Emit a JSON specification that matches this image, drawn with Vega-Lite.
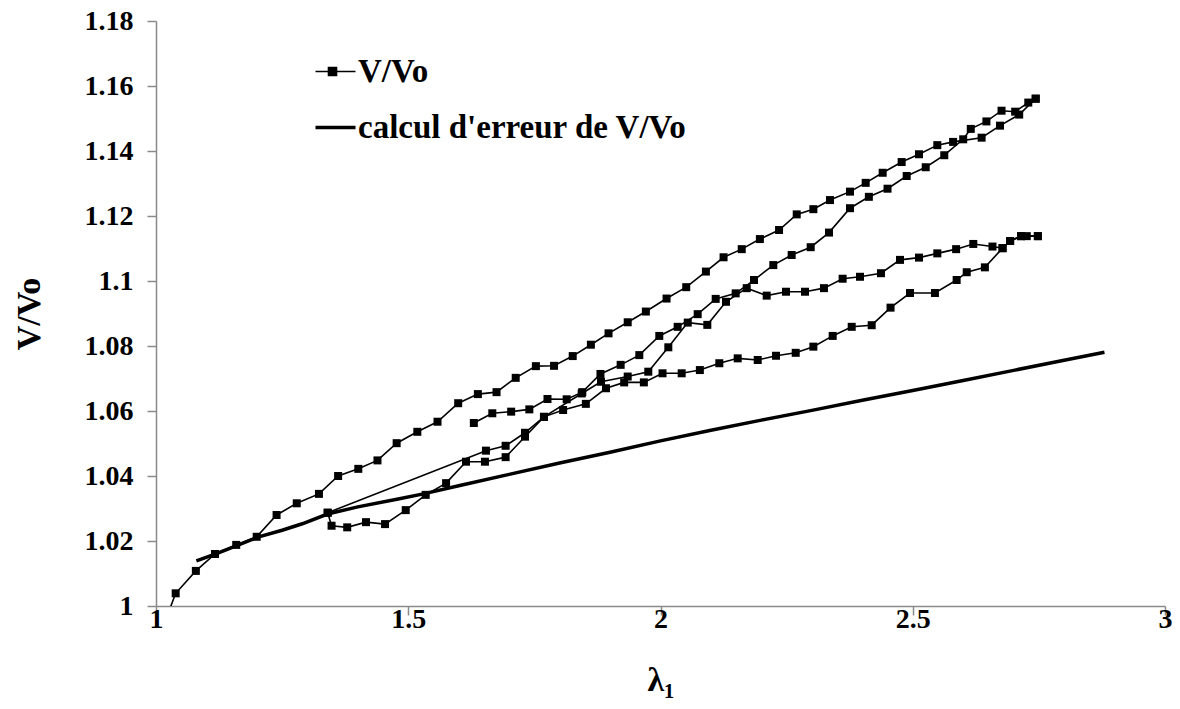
{
  "$schema": "https://vega.github.io/schema/vega-lite/v6.json",
  "width": 1009,
  "height": 585,
  "autosize": "none",
  "padding": {"left": 156, "top": 21, "right": 15, "bottom": 103},
  "background": "white",
  "config": {"view": {"stroke": null}, "font": "Liberation Serif, Times New Roman, serif"},
  "datasets": {
    "vv": [
      {"b":"A","i":0,"x":1.015,"y":0.994},
      {"b":"A","i":1,"x":1.039,"y":1.0039},
      {"b":"A","i":2,"x":1.079,"y":1.0108},
      {"b":"A","i":3,"x":1.117,"y":1.0160},
      {"b":"A","i":4,"x":1.159,"y":1.0188},
      {"b":"A","i":5,"x":1.1996,"y":1.0213},
      {"b":"A","i":6,"x":1.239,"y":1.0280},
      {"b":"A","i":7,"x":1.279,"y":1.0316},
      {"b":"A","i":8,"x":1.323,"y":1.0345},
      {"b":"A","i":9,"x":1.361,"y":1.0400},
      {"b":"A","i":10,"x":1.401,"y":1.0422},
      {"b":"A","i":11,"x":1.439,"y":1.0448},
      {"b":"A","i":12,"x":1.477,"y":1.0501},
      {"b":"A","i":13,"x":1.518,"y":1.0536},
      {"b":"A","i":14,"x":1.558,"y":1.0567},
      {"b":"A","i":15,"x":1.599,"y":1.0624},
      {"b":"A","i":16,"x":1.638,"y":1.0652},
      {"b":"A","i":17,"x":1.675,"y":1.0658},
      {"b":"A","i":18,"x":1.713,"y":1.0702},
      {"b":"A","i":19,"x":1.753,"y":1.0738},
      {"b":"A","i":20,"x":1.789,"y":1.0739},
      {"b":"A","i":21,"x":1.826,"y":1.0769},
      {"b":"A","i":22,"x":1.862,"y":1.0804},
      {"b":"A","i":23,"x":1.897,"y":1.0839},
      {"b":"A","i":24,"x":1.935,"y":1.0873},
      {"b":"A","i":25,"x":1.971,"y":1.0906},
      {"b":"A","i":26,"x":2.012,"y":1.0946},
      {"b":"A","i":27,"x":2.051,"y":1.0981},
      {"b":"A","i":28,"x":2.090,"y":1.1029},
      {"b":"A","i":29,"x":2.125,"y":1.1073},
      {"b":"A","i":30,"x":2.161,"y":1.1098},
      {"b":"A","i":31,"x":2.197,"y":1.1129},
      {"b":"A","i":32,"x":2.235,"y":1.1157},
      {"b":"A","i":33,"x":2.270,"y":1.1205},
      {"b":"A","i":34,"x":2.303,"y":1.1221},
      {"b":"A","i":35,"x":2.336,"y":1.1249},
      {"b":"A","i":36,"x":2.3756,"y":1.1275},
      {"b":"A","i":37,"x":2.4067,"y":1.1302},
      {"b":"A","i":38,"x":2.4404,"y":1.1333},
      {"b":"A","i":39,"x":2.478,"y":1.1366},
      {"b":"A","i":40,"x":2.5124,"y":1.1390},
      {"b":"A","i":41,"x":2.5487,"y":1.1418},
      {"b":"A","i":42,"x":2.580,"y":1.1428},
      {"b":"A","i":43,"x":2.6365,"y":1.1441},
      {"b":"A","i":44,"x":2.673,"y":1.1478},
      {"b":"A","i":45,"x":2.711,"y":1.1512},
      {"b":"A","i":46,"x":2.7437,"y":1.1561},
      {"b":"B","i":0,"x":2.7437,"y":1.1561},
      {"b":"B","i":1,"x":2.729,"y":1.1549},
      {"b":"B","i":2,"x":2.703,"y":1.1521},
      {"b":"B","i":3,"x":2.676,"y":1.1524},
      {"b":"B","i":4,"x":2.646,"y":1.1491},
      {"b":"B","i":5,"x":2.615,"y":1.1468},
      {"b":"B","i":6,"x":2.600,"y":1.1436},
      {"b":"B","i":7,"x":2.5625,"y":1.1387},
      {"b":"B","i":8,"x":2.5257,"y":1.1350},
      {"b":"B","i":9,"x":2.488,"y":1.1323},
      {"b":"B","i":10,"x":2.450,"y":1.1284},
      {"b":"B","i":11,"x":2.413,"y":1.1259},
      {"b":"B","i":12,"x":2.3756,"y":1.1224},
      {"b":"B","i":13,"x":2.334,"y":1.1149},
      {"b":"B","i":14,"x":2.2977,"y":1.1104},
      {"b":"B","i":15,"x":2.260,"y":1.1080},
      {"b":"B","i":16,"x":2.2236,"y":1.1049},
      {"b":"B","i":17,"x":2.1853,"y":1.1003},
      {"b":"B","i":18,"x":2.149,"y":1.0962},
      {"b":"B","i":19,"x":2.1094,"y":1.0945},
      {"b":"B","i":20,"x":2.0737,"y":1.0898},
      {"b":"B","i":21,"x":2.034,"y":1.0859},
      {"b":"B","i":22,"x":1.9976,"y":1.0831},
      {"b":"B","i":23,"x":1.958,"y":1.0772},
      {"b":"B","i":24,"x":1.921,"y":1.0742},
      {"b":"B","i":25,"x":1.881,"y":1.0714},
      {"b":"B","i":26,"x":1.845,"y":1.0658},
      {"b":"B","i":27,"x":1.814,"y":1.0636},
      {"b":"B","i":28,"x":1.776,"y":1.0637},
      {"b":"B","i":29,"x":1.740,"y":1.0605},
      {"b":"B","i":30,"x":1.704,"y":1.0598},
      {"b":"B","i":31,"x":1.6666,"y":1.0593},
      {"b":"B","i":32,"x":1.630,"y":1.0563},
      {"b":"C","i":0,"x":1.3403,"y":1.0287},
      {"b":"C","i":1,"x":1.348,"y":1.0247},
      {"b":"C","i":2,"x":1.379,"y":1.0242},
      {"b":"C","i":3,"x":1.4163,"y":1.0258},
      {"b":"C","i":4,"x":1.454,"y":1.0252},
      {"b":"C","i":5,"x":1.495,"y":1.0295},
      {"b":"C","i":6,"x":1.5346,"y":1.0342},
      {"b":"C","i":7,"x":1.575,"y":1.0378},
      {"b":"C","i":8,"x":1.6145,"y":1.0444},
      {"b":"C","i":9,"x":1.652,"y":1.0444},
      {"b":"C","i":10,"x":1.693,"y":1.0458},
      {"b":"C","i":11,"x":1.7314,"y":1.0521},
      {"b":"C","i":12,"x":1.769,"y":1.0582},
      {"b":"C","i":13,"x":1.807,"y":1.0603},
      {"b":"C","i":14,"x":1.852,"y":1.0622},
      {"b":"C","i":15,"x":1.892,"y":1.0670},
      {"b":"C","i":16,"x":1.928,"y":1.0688},
      {"b":"C","i":17,"x":1.967,"y":1.0688},
      {"b":"C","i":18,"x":2.004,"y":1.0716},
      {"b":"C","i":19,"x":2.042,"y":1.0716},
      {"b":"C","i":20,"x":2.078,"y":1.0726},
      {"b":"C","i":21,"x":2.1166,"y":1.0747},
      {"b":"C","i":22,"x":2.153,"y":1.0762},
      {"b":"C","i":23,"x":2.1927,"y":1.0757},
      {"b":"C","i":24,"x":2.229,"y":1.0770},
      {"b":"C","i":25,"x":2.268,"y":1.0779},
      {"b":"C","i":26,"x":2.303,"y":1.0798},
      {"b":"C","i":27,"x":2.3413,"y":1.0831},
      {"b":"C","i":28,"x":2.379,"y":1.0859},
      {"b":"C","i":29,"x":2.4186,"y":1.0864},
      {"b":"C","i":30,"x":2.456,"y":1.0918},
      {"b":"C","i":31,"x":2.4946,"y":1.0963},
      {"b":"C","i":32,"x":2.544,"y":1.0963},
      {"b":"C","i":33,"x":2.587,"y":1.1003},
      {"b":"C","i":34,"x":2.607,"y":1.1027},
      {"b":"C","i":35,"x":2.643,"y":1.1042},
      {"b":"C","i":36,"x":2.678,"y":1.1101},
      {"b":"C","i":37,"x":2.693,"y":1.1123},
      {"b":"C","i":38,"x":2.7146,"y":1.1138},
      {"b":"C","i":39,"x":2.726,"y":1.1138},
      {"b":"C","i":40,"x":2.748,"y":1.1138},
      {"b":"D","i":0,"x":2.748,"y":1.1138},
      {"b":"D","i":1,"x":2.7146,"y":1.1138},
      {"b":"D","i":2,"x":2.693,"y":1.1123},
      {"b":"D","i":3,"x":2.678,"y":1.1101},
      {"b":"D","i":4,"x":2.658,"y":1.1106},
      {"b":"D","i":5,"x":2.620,"y":1.1114},
      {"b":"D","i":6,"x":2.586,"y":1.1098},
      {"b":"D","i":7,"x":2.5487,"y":1.1085},
      {"b":"D","i":8,"x":2.5124,"y":1.1072},
      {"b":"D","i":9,"x":2.4747,"y":1.1065},
      {"b":"D","i":10,"x":2.437,"y":1.1024},
      {"b":"D","i":11,"x":2.3954,"y":1.1013},
      {"b":"D","i":12,"x":2.361,"y":1.1007},
      {"b":"D","i":13,"x":2.324,"y":1.0978},
      {"b":"D","i":14,"x":2.2864,"y":1.0967},
      {"b":"D","i":15,"x":2.2488,"y":1.0967},
      {"b":"D","i":16,"x":2.2105,"y":1.0955},
      {"b":"D","i":17,"x":2.1709,"y":1.0978},
      {"b":"D","i":18,"x":2.1298,"y":1.0936},
      {"b":"D","i":19,"x":2.0928,"y":1.0865},
      {"b":"D","i":20,"x":2.054,"y":1.0872},
      {"b":"D","i":21,"x":2.0155,"y":1.0796},
      {"b":"D","i":22,"x":1.9758,"y":1.0721},
      {"b":"D","i":23,"x":1.935,"y":1.0706},
      {"b":"D","i":24,"x":1.882,"y":1.0690},
      {"b":"D","i":25,"x":1.8438,"y":1.0654},
      {"b":"D","i":26,"x":1.769,"y":1.0582},
      {"b":"D","i":27,"x":1.7314,"y":1.0533},
      {"b":"D","i":28,"x":1.693,"y":1.0493},
      {"b":"D","i":29,"x":1.654,"y":1.0478},
      {"b":"D","i":30,"x":1.3403,"y":1.0287}
    ],
    "calc": [
      {"x":1.08,"y":1.0139},
      {"x":1.12,"y":1.0161},
      {"x":1.16,"y":1.0186},
      {"x":1.20,"y":1.0211},
      {"x":1.25,"y":1.0233},
      {"x":1.29,"y":1.0253},
      {"x":1.34,"y":1.0283},
      {"x":1.40,"y":1.0305},
      {"x":1.48,"y":1.0329},
      {"x":1.53,"y":1.0345},
      {"x":1.60,"y":1.0370},
      {"x":1.70,"y":1.0405},
      {"x":1.80,"y":1.0440},
      {"x":1.90,"y":1.0473},
      {"x":2.00,"y":1.0508},
      {"x":2.10,"y":1.0541},
      {"x":2.20,"y":1.0572},
      {"x":2.30,"y":1.0602},
      {"x":2.40,"y":1.0633},
      {"x":2.50,"y":1.0663},
      {"x":2.60,"y":1.0694},
      {"x":2.70,"y":1.0725},
      {"x":2.80,"y":1.0756},
      {"x":2.88,"y":1.0781}
    ]
  },
  "encoding": {
    "x": {"field": "x", "type": "quantitative",
      "scale": {"domain": [1, 3], "nice": false, "zero": false},
      "axis": {"values": [1, 1.5, 2, 2.5, 3], "format": "~g", "grid": false,
        "title": "λ₁", "titleFontSize": 34, "titleFontWeight": "bold", "titleFont": "Liberation Serif, Times New Roman, serif", "titleColor": "black", "titlePadding": 30,
        "labelFontSize": 28, "labelFontWeight": "bold", "labelFont": "Liberation Serif, Times New Roman, serif", "labelColor": "black", "labelPadding": -10,
        "domainColor": "#8a8a8a", "domainWidth": 1.5, "tickColor": "#8a8a8a", "tickWidth": 1.5, "tickSize": 9, "labelFlush": false}},
    "y": {"field": "y", "type": "quantitative",
      "scale": {"domain": [1, 1.18], "nice": false, "zero": false},
      "axis": {"values": [1, 1.02, 1.04, 1.06, 1.08, 1.1, 1.12, 1.14, 1.16, 1.18], "format": "~g", "grid": false,
        "title": "V/Vo", "titleFontSize": 34, "titleFontWeight": "bold", "titleFont": "Liberation Serif, Times New Roman, serif", "titleColor": "black", "titlePadding": 38,
        "labelFontSize": 28, "labelFontWeight": "bold", "labelFont": "Liberation Serif, Times New Roman, serif", "labelColor": "black", "labelPadding": 14,
        "domainColor": "#8a8a8a", "domainWidth": 1.5, "tickColor": "#8a8a8a", "tickWidth": 1.5, "tickSize": 9, "labelFlush": false}}
  },
  "layer": [
    {
      "data": {"name": "vv"},
      "transform": [{"calculate": "'V/Vo'", "as": "s"}],
      "mark": {"type": "line", "strokeWidth": 1.6, "clip": true},
      "encoding": {
        "detail": {"field": "b"},
        "order": {"field": "i", "type": "quantitative"},
        "color": {"field": "s", "type": "nominal",
          "scale": {"domain": ["V/Vo", "calcul d'erreur de V/Vo"], "range": ["#000000", "#000000"]},
          "legend": {"orient": "none", "legendX": 163, "legendY": 34, "title": null, "padding": 0,
            "labelFontSize": 33, "labelFontWeight": "bold", "labelFont": "Liberation Serif, Times New Roman, serif", "labelColor": "black", "labelLimit": 700,
            "symbolSize": 1600, "rowPadding": 22, "labelOffset": 6,
            "encode": {"symbols": {"update": {
              "shape": {"signal": "datum.value === 'V/Vo' ? 'M-1,0H1M-0.35,-0.2H0.05V0.2H-0.35Z' : 'M-1,0H1'"},
              "fill": {"value": "#000000"}, "stroke": {"value": "#000000"}, "fillOpacity": {"value": 1}, "opacity": {"value": 1},
              "strokeWidth": {"signal": "datum.value === 'V/Vo' ? 1.6 : 3.5"}}}}}}
      }
    },
    {
      "data": {"name": "vv"},
      "transform": [{"filter": "datum.y >= 1"}],
      "mark": {"type": "point", "shape": "square", "filled": true, "size": 64, "color": "#000000", "opacity": 1},
      "encoding": {}
    },
    {
      "data": {"name": "calc"},
      "transform": [{"calculate": "'calcul d\\'erreur de V/Vo'", "as": "s"}],
      "mark": {"type": "line", "strokeWidth": 3.5, "clip": true},
      "encoding": {"color": {"field": "s", "type": "nominal"}}
    }
  ]
}
